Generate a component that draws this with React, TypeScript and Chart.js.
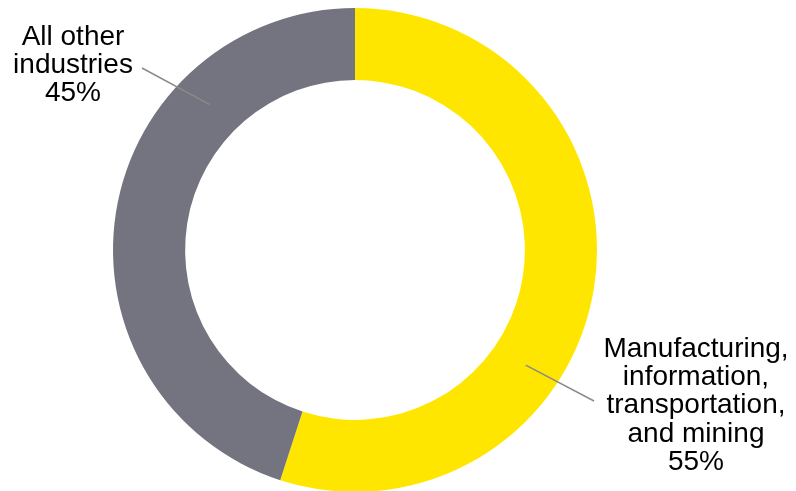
import React, { useEffect, useRef } from "react";
import { Chart, registerables } from "chart.js";

Chart.register(...registerables);

const categories = ["Manufacturing, information, transportation, and mining", "All other industries"];
const values = [55, 45];
const colors = ["#FFE600", "#747480"];
const labelLines = [
  ["Manufacturing,", "information,", "transportation,", "and mining", "55%"],
  ["All other", "industries", "45%"],
];

// label layout relative to the doughnut centre (px)
const labelLayout = [
  { angleDeg: 124, textX: 341, firstBaseline: 107, lineEnd: { x: 239, y: 151 } },
  { angleDeg: 315, textX: -282, firstBaseline: -205, lineEnd: { x: -213, y: -182 } },
];

const labelPlugin = {
  id: "leaderLabels",
  afterDraw(chart: any) {
    const meta = chart.getDatasetMeta(0);
    const arc = meta.data[0] as any;
    if (!arc) return;
    const cx = arc.x;
    const cy = arc.y;
    const midR = (arc.innerRadius + arc.outerRadius) / 2;
    const ctx = chart.ctx;
    ctx.save();
    labelLayout.forEach((l, i) => {
      const a = (l.angleDeg * Math.PI) / 180;
      const sx = cx + midR * Math.sin(a);
      const sy = cy - midR * Math.cos(a);
      ctx.strokeStyle = "#8a8a8a";
      ctx.lineWidth = 1.5;
      ctx.beginPath();
      ctx.moveTo(sx, sy);
      ctx.lineTo(cx + l.lineEnd.x, cy + l.lineEnd.y);
      ctx.stroke();
      ctx.fillStyle = "#000";
      ctx.font = "28px 'Liberation Sans', Arial, sans-serif";
      ctx.textAlign = "center";
      ctx.textBaseline = "alphabetic";
      labelLines[i].forEach((t, j) => {
        ctx.fillText(t, cx + l.textX, cy + l.firstBaseline + j * 28.2);
      });
    });
    ctx.restore();
  },
};

export default function App() {
  const ref = useRef<HTMLCanvasElement | null>(null);
  useEffect(() => {
    if (!ref.current) return;
    const chart = new Chart(ref.current, {
      type: "doughnut",
      data: {
        labels: categories,
        datasets: [
          {
            data: values,
            backgroundColor: colors,
            borderWidth: 0,
          },
        ],
      },
      options: {
        animation: false,
        responsive: true,
        maintainAspectRatio: false,
        cutout: "70.2%",
        layout: { padding: { left: 105, right: 191, top: 0, bottom: 0 } },
        plugins: {
          legend: { display: false },
          tooltip: { enabled: false },
        },
      },
      plugins: [labelPlugin],
    });
    return () => chart.destroy();
  }, []);
  return (
    <div style={{ position: "relative", width: 780, height: 484 }}>
      <canvas ref={ref} />
    </div>
  );
}
